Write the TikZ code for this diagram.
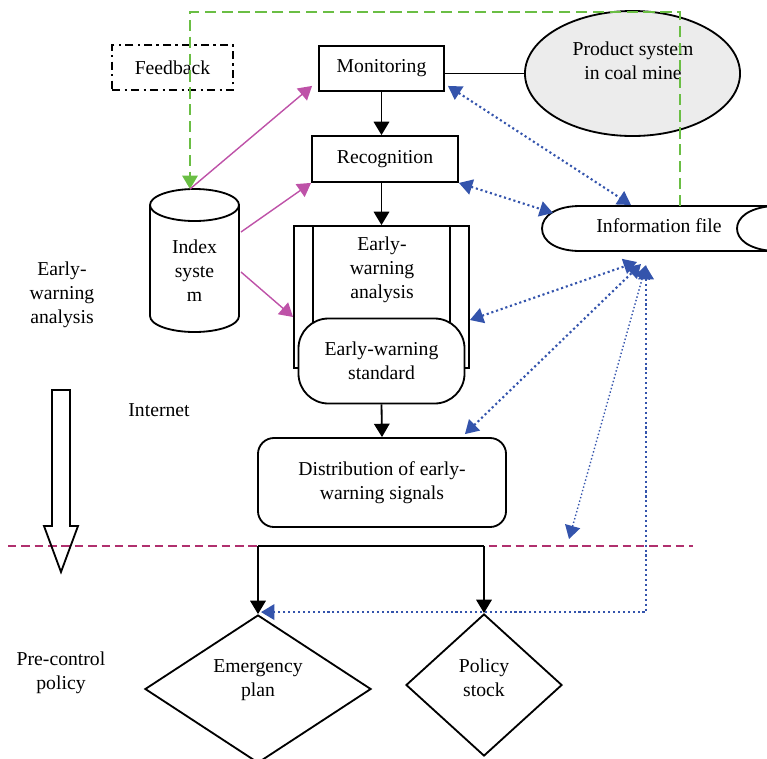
\documentclass[tikz,border=0pt]{standalone}
\usepackage{fontspec}
\setmainfont{Liberation Serif}
\usetikzlibrary{positioning, calc, arrows.meta, shapes.geometric}
\definecolor{fbgreen}{RGB}{106,190,68}
\definecolor{linkblue}{RGB}{52,84,172}
\definecolor{idxpink}{RGB}{190,82,168}
\definecolor{cutred}{RGB}{176,48,110}

\begin{document}
\begin{tikzpicture}[x=0.025cm, y=-0.025cm, >={Triangle[length=9.5pt,width=11pt]},
    every node/.style={font=\fontsize{14}{17}\selectfont, align=center},
    box/.style={draw, line width=1.3pt, inner sep=0pt},
    flow/.style={->, line width=1.3pt},
    pinkarrow/.style={->, idxpink, line width=1pt},
    bluelink/.style={<->, linkblue, line width=1.5pt, dash pattern=on 1.5pt off 2pt}]
    \useasboundingbox (0,0) rectangle (767,758);

    \node[box, line width=1pt, dash pattern=on 6pt off 3pt on 1.5pt off 3pt, minimum width=3.025cm, minimum height=1.125cm] (feedback) at (172.5,67.5) {Feedback};
    \node[box, minimum width=3.125cm, minimum height=1.125cm] (monitor) at (381.5,68.5) {Monitoring};
    \node[box, minimum width=3.65cm, minimum height=1.15cm] (recog) at (385,159) {Recognition};
    \node[box, ellipse, fill=gray!15, minimum width=5.375cm, minimum height=3.125cm] (product) at (632.5,73.5) {};
    \node (productlbl) at (633,61) {Product system\\in coal mine};

    % index system (cylinder)
    \draw[line width=1.3pt, fill=white] (150,205) -- (150,316) arc[start angle=180, end angle=360, x radius=1.1125cm, y radius=0.4cm] -- (239,205);
    \draw[line width=1.3pt] (194.5,205) ellipse[x radius=1.1125cm, y radius=0.4cm];
    \node (idxlbl) at (194.5,271) {Index\\syste\\m};
    \coordinate (idxtop) at (190,189);
    \coordinate (idxe1) at (241,232);
    \coordinate (idxe2) at (241,272);

    \node[box, minimum width=4.375cm, minimum height=3.55cm] (ewa) at (381.5,297) {};
    \draw[line width=1.3pt] ($(ewa.north west)+(20,0)$) -- ($(ewa.south west)+(20,0)$)
        ($(ewa.north east)+(-20,0)$) -- ($(ewa.south east)+(-20,0)$);
    \node (ewalbl) at (382,270) {Early-\\warning\\analysis};
    \node[box, fill=white, rounded corners=0.75cm, minimum width=4.15cm, minimum height=2.125cm] (ews) at (381.5,361) {Early-warning\\standard};
    \node[box, rounded corners=0.4cm, minimum width=6.2cm, minimum height=2.225cm] (distrib) at (382,482.5) {Distribution of early-\\warning signals};

    \node[box, diamond, minimum width=5.65cm, minimum height=3.7cm] (emerg) at (258,689) {};
    \node (emerglbl) at (258,680.5) {Emergency\\plan};
    \node[box, diamond, minimum width=3.9cm, minimum height=3.55cm] (policy) at (484,685) {};
    \node (policylbl) at (484,678) {Policy\\stock};

    % information file
    \draw[line width=1.3pt] (580,206) -- (772,206) .. controls (748,208) and (737,218) .. (737,228.5) .. controls (737,239) and (748,249) .. (772,251) -- (580,251) .. controls (556,251) and (542,241) .. (542,228.5) .. controls (542,216) and (556,206) .. (580,206) -- cycle;
    \node (info) at (659,226) {Information file};
    \coordinate (infoN) at (631,205);
    \coordinate (infoW) at (553,213);
    \coordinate (infoS1) at (637,262);
    \coordinate (infoS2) at (641,264);
    \coordinate (infoS3) at (646,265);
    \coordinate (infoS4) at (646,266);
    \coordinate (free) at (569,539);

    % black flow
    \draw[flow] (monitor.south) -- (monitor.south |- recog.north);
    \draw[flow] (ewa.north |- recog.south) -- (ewa.north);
    \draw[flow] (ews.south) -- (distrib.north);
    \draw[line width=1.3pt] (monitor.east |- product.west) -- (product.west);

    \draw[cutred, line width=0.9pt, dash pattern=on 6pt off 3.5pt] (8,546) -- (693,546);
    \coordinate (cutL) at (258,546);
    \coordinate (cutR) at (484,546);
    \draw[line width=1.3pt] (cutL) -- (cutR);
    \draw[flow] (cutL) -- (emerg.north);
    \draw[flow] (cutR) -- (policy.north);

    % feedback loop
    \coordinate (fbstart) at (680,206);
    \draw[fbgreen, ->, line width=1.1pt, dash pattern=on 8pt off 4pt] (fbstart) -- (680,12) -| (idxtop);

    \draw[pinkarrow] (idxtop) -- ($(monitor.south west)+(-6,-6)$);
    \draw[pinkarrow] (idxe1) -- (recog.south west);
    \draw[pinkarrow] (idxe2) -- ($(ewa.west)+(0,20)$);

    \draw[bluelink] ($(monitor.south east)+(3,-6)$) -- (infoN);
    \draw[bluelink] (recog.south east) -- (infoW);
    \draw[bluelink] ($(ewa.east)+(0,23)$) -- (infoS1);
    \draw[bluelink] ($(distrib.north east)+(-42,-3)$) -- (infoS2);
    \draw[bluelink, line width=1pt, dash pattern=on 1pt off 1.6pt] (free) -- (infoS3);
    \draw[bluelink] (infoS4) |- ($(emerg.north)+(3,-2)$);

    % side labels
    \draw[line width=1.3pt] (52,390) -- (70,390) -- (70,526) -- (78,526) -- (61,572) -- (44,526) -- (52,526) -- cycle;
    \node (lblewa) at (62,295) {Early-\\warning\\analysis};
    \node (lblnet) at (159,410) {Internet};
    \node (lblpre) at (61,673) {Pre-control\\policy};
\end{tikzpicture}
\end{document}
